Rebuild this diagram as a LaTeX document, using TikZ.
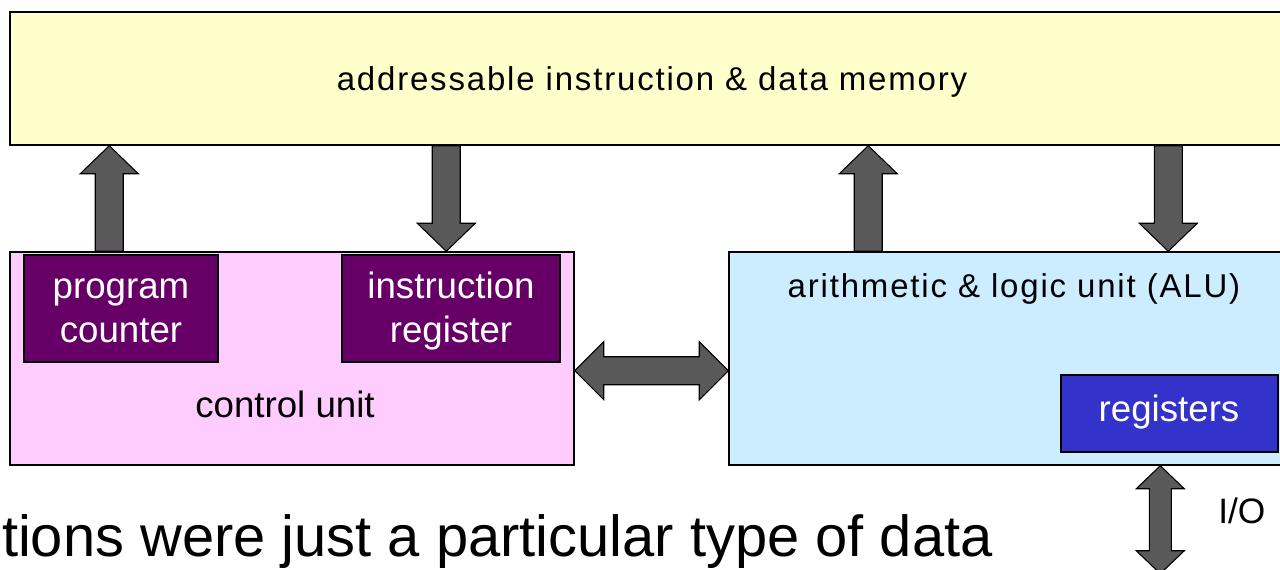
\documentclass[tikz,border=0pt]{standalone}
\usepackage{fontspec}
\setmainfont{Liberation Sans}
\newfontfamily\trackedsans[LetterSpace=5.5]{Liberation Sans}
\usetikzlibrary{calc,fit}

\definecolor{memfill}{HTML}{FFFFCC}
\definecolor{cufill}{HTML}{FFCCFF}
\definecolor{pcfill}{HTML}{660066}
\definecolor{alufill}{HTML}{CCECFF}
\definecolor{regfill}{HTML}{3333CC}
\definecolor{busgray}{HTML}{595959}

% single block arrow: tail, tip, shaft half-width, head half-width, head length
\newcommand\blkarrow[5]{%
  \filldraw[bus] let \p1=($(#2)!#5!(#1)$) in
    ($(#1)!#3!90:(#2)$) -- ($(\p1)!#3!-90:(#1)$) -- ($(\p1)!#4!-90:(#1)$) -- (#2)
    -- ($(\p1)!#4!90:(#1)$) -- ($(\p1)!#3!90:(#1)$) -- ($(#1)!#3!-90:(#2)$) -- cycle;}
% double block arrow: end, end, shaft half-width, head half-width, head length
\newcommand\blkdarrow[5]{%
  \filldraw[bus] let \p1=($(#1)!#5!(#2)$), \p2=($(#2)!#5!(#1)$) in
    (#1) -- ($(\p1)!#4!90:(#2)$) -- ($(\p1)!#3!90:(#2)$) -- ($(\p2)!#3!-90:(#1)$)
    -- ($(\p2)!#4!-90:(#1)$) -- (#2) -- ($(\p2)!#4!90:(#1)$) -- ($(\p2)!#3!90:(#1)$)
    -- ($(\p1)!#3!-90:(#2)$) -- ($(\p1)!#4!-90:(#2)$) -- cycle;}

\tikzset{
  box/.style={draw=black, line width=1.1pt, inner sep=0pt},
  inbox/.style={draw=black, line width=0.8pt, inner sep=0pt},
  bus/.style={fill=busgray, draw=black, line width=0.8pt, line join=miter},
  widelbl/.style={anchor=base, inner sep=0pt, font=\trackedsans\fontsize{24.75pt}{30pt}\selectfont},
  lbl/.style={anchor=base, inner sep=0pt, align=center, font=\fontsize{27.5pt}{33pt}\selectfont},
}

\begin{document}
\begin{tikzpicture}[x=0.75pt, y=-0.75pt]
\path[use as bounding box] (0,0) rectangle (1280,570);
\clip (0,0) rectangle (1280,570);

% boxes
\node[box, fill=memfill, fit={(10,12) (1295,145)}] (mem) {};
\node[box, fill=cufill, fit={(10,252) (574,465)}] (cu) {};
\node[box, fill=alufill, fit={(729,252) (1295,465)}] (alu) {};
\node[inbox, fill=pcfill, fit={(24,255) (218,362)}] (pc) {};
\node[inbox, fill=pcfill, fit={(342,255) (560,362)}] (ir) {};
\node[inbox, fill=regfill, fit={(1061,375) (1278,452)}] (regs) {};

% labels (the base anchor of a two-line label sits on its last line)
\node[widelbl] (memtxt) at (652,91) {addressable instruction \& data memory};
\node[widelbl] (alutxt) at (1014,297) {arithmetic \& logic unit (ALU)};
\node[lbl, text=white] (pctxt) at (121,342) {program\\counter};
\node[lbl, text=white] (irtxt) at (451,342) {instruction\\register};
\node[lbl] (cutxt) at (285,417) {control unit};
\node[lbl, text=white] (regtxt) at (1169,421) {registers};
\node[anchor=base west, inner sep=0pt, font=\fontsize{26.5pt}{32pt}\selectfont] (iotxt) at (1218,523) {I/O};
\node[anchor=base east, inner sep=0pt, font=\fontsize{43.4pt}{52pt}\selectfont] (note) at (993,556) {tions were just a particular type of data};

% bus ports
\coordinate (pcout) at ($(cu.north west)+(100,0)$);
\coordinate (irin) at ($(mem.south west)+(437,0)$);
\coordinate (aluout) at ($(alu.north west)+(140,0)$);
\coordinate (aluin) at ($(mem.south west)+(1159,0)$);
\coordinate (cuport) at ($(cu.south east)+(0,-95)$);
\coordinate (ioport) at ($(alu.south west)+(432,0)$);
\coordinate (ioend) at ($(ioport)+(0,108)$);

% buses
\blkarrow{pcout}{pcout |- mem.south}{10.5pt}{21.75pt}{21pt}
\blkarrow{irin}{irin |- cu.north}{10.5pt}{21.75pt}{21pt}
\blkarrow{aluout}{aluout |- mem.south}{10.5pt}{21.75pt}{21pt}
\blkarrow{aluin}{aluin |- alu.north}{10.5pt}{21.75pt}{21pt}
\blkdarrow{cuport}{cuport -| alu.west}{10.5pt}{21.75pt}{21.75pt}
\blkdarrow{ioport}{ioend}{8.25pt}{18pt}{17.25pt}
\end{tikzpicture}
\end{document}
